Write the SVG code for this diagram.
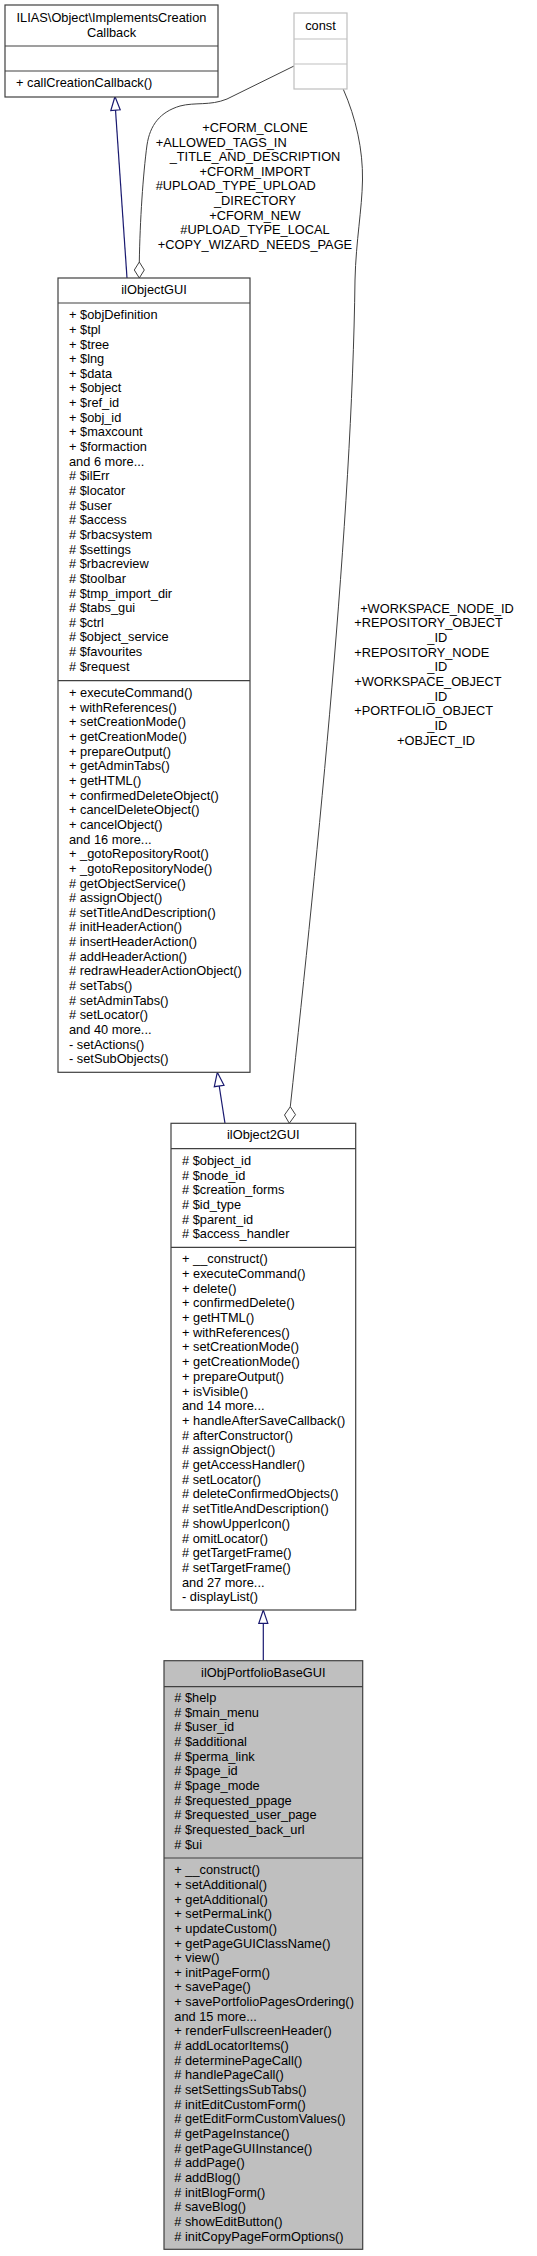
<svg xmlns="http://www.w3.org/2000/svg" width="537" height="2256" viewBox="0 0 537 2256">
<defs>
<style>
text{font-family:"Liberation Sans",Arial,sans-serif;font-size:12.8px;fill:#000}
.c{text-anchor:middle}
.box{fill:#fff;stroke:#404040;stroke-width:1.2}
.cur{fill:#bfbfbf;stroke:#404040;stroke-width:1.2}
.cst{fill:#fff;stroke:#bfbfbf;stroke-width:1.2}
.div{stroke:#404040;stroke-width:1.2}
.divc{stroke:#bfbfbf;stroke-width:1.2}
.inh{fill:none;stroke:#191970;stroke-width:1.2}
.inhh{fill:#fff;stroke:#191970;stroke-width:1.2}
.agg{fill:none;stroke:#404040;stroke-width:1}
.aggh{fill:#fff;stroke:#404040;stroke-width:1}
</style>
</defs>
<rect width="537" height="2256" fill="#fff"/>

<g id="connectors">
<path class="inh" d="M127,278 L115.5,110"/>
<polygon class="inhh" points="115,96.5 110.8,110.5 120.2,109.8"/>
<path class="agg" d="M294,66 L227,99 C210,106 195,102 180,106 C160,112 150,125 147,145 C143,175 140,220 139.3,262"/>
<polygon class="aggh" points="139.3,262 144.3,270 139.3,278 134.3,270"/>
<text x="255" y="131.5" class="c">+CFORM_CLONE</text>
<text x="155.7" y="146.5">+ALLOWED_TAGS_IN</text>
<text x="255" y="160.8" class="c">_TITLE_AND_DESCRIPTION</text>
<text x="255" y="175.5" class="c">+CFORM_IMPORT</text>
<text x="155.7" y="190.2">#UPLOAD_TYPE_UPLOAD</text>
<text x="255" y="204.5" class="c">_DIRECTORY</text>
<text x="255" y="219.5" class="c">+CFORM_NEW</text>
<text x="255" y="234.2" class="c">#UPLOAD_TYPE_LOCAL</text>
<text x="255" y="248.8" class="c">+COPY_WIZARD_NEEDS_PAGE</text>

<path class="inh" d="M225,1123.3 L219.2,1086"/>
<polygon class="inhh" points="217.3,1072.3 214.3,1086.7 224,1085.3"/>
<path class="agg" d="M343.3,89.3 C356,118 363,150 362.5,180 C362,210 356,240 355,280 C352,520 318,850 290.3,1106.7"/>
<polygon class="aggh" points="290.3,1106.7 295.5,1114.7 289.3,1123.3 284.5,1115"/>
<text x="437" y="612.8" class="c">+WORKSPACE_NODE_ID</text>
<text x="354.3" y="626.8">+REPOSITORY_OBJECT</text>
<text x="437.3" y="641.8" class="c">_ID</text>
<text x="354.3" y="656.5">+REPOSITORY_NODE</text>
<text x="437.3" y="670.8" class="c">_ID</text>
<text x="354.3" y="685.5">+WORKSPACE_OBJECT</text>
<text x="437.3" y="700.5" class="c">_ID</text>
<text x="354.3" y="714.8">+PORTFOLIO_OBJECT</text>
<text x="437.3" y="729.5" class="c">_ID</text>
<text x="436" y="744.5" class="c">+OBJECT_ID</text>

<path class="inh" d="M263.3,1660.7 L263.3,1623.3"/>
<polygon class="inhh" points="263.3,1610 258.8,1623.3 267.8,1623.3"/>
</g>

<g id="node-ILIAS-Object-ImplementsCreationCallback">
<rect class="box" x="5" y="5" width="213" height="92"/>
<line class="div" x1="5" y1="46" x2="218" y2="46"/>
<line class="div" x1="5" y1="71" x2="218" y2="71"/>
<text x="111.5" y="21.8" class="c">ILIAS\Object\ImplementsCreation</text>
<text x="111.5" y="36.8" class="c">Callback</text>
<text x="16" y="86.5">+ callCreationCallback()</text>
</g>

<g id="node-const">
<rect class="cst" x="294" y="13" width="53" height="76"/>
<line class="divc" x1="294" y1="39" x2="347" y2="39"/>
<line class="divc" x1="294" y1="64" x2="347" y2="64"/>
<text x="320.5" y="29.5" class="c">const</text>
</g>

<g id="node-ilObjectGUI">
<rect class="box" x="58" y="278" width="192" height="794.3"/>
<line class="div" x1="58" y1="303" x2="250" y2="303"/>
<line class="div" x1="58" y1="680.7" x2="250" y2="680.7"/>
<text x="154" y="293.5" class="c">ilObjectGUI</text>
<text y="319.2">
<tspan x="69">+ $objDefinition</tspan>
<tspan x="69" dy="14.65">+ $tpl</tspan>
<tspan x="69" dy="14.65">+ $tree</tspan>
<tspan x="69" dy="14.65">+ $lng</tspan>
<tspan x="69" dy="14.65">+ $data</tspan>
<tspan x="69" dy="14.65">+ $object</tspan>
<tspan x="69" dy="14.65">+ $ref_id</tspan>
<tspan x="69" dy="14.65">+ $obj_id</tspan>
<tspan x="69" dy="14.65">+ $maxcount</tspan>
<tspan x="69" dy="14.65">+ $formaction</tspan>
<tspan x="69" dy="14.65">and 6 more...</tspan>
<tspan x="69" dy="14.65"># $ilErr</tspan>
<tspan x="69" dy="14.65"># $locator</tspan>
<tspan x="69" dy="14.65"># $user</tspan>
<tspan x="69" dy="14.65"># $access</tspan>
<tspan x="69" dy="14.65"># $rbacsystem</tspan>
<tspan x="69" dy="14.65"># $settings</tspan>
<tspan x="69" dy="14.65"># $rbacreview</tspan>
<tspan x="69" dy="14.65"># $toolbar</tspan>
<tspan x="69" dy="14.65"># $tmp_import_dir</tspan>
<tspan x="69" dy="14.65"># $tabs_gui</tspan>
<tspan x="69" dy="14.65"># $ctrl</tspan>
<tspan x="69" dy="14.65"># $object_service</tspan>
<tspan x="69" dy="14.65"># $favourites</tspan>
<tspan x="69" dy="14.65"># $request</tspan>
</text>
<text y="697.2">
<tspan x="69">+ executeCommand()</tspan>
<tspan x="69" dy="14.64">+ withReferences()</tspan>
<tspan x="69" dy="14.64">+ setCreationMode()</tspan>
<tspan x="69" dy="14.64">+ getCreationMode()</tspan>
<tspan x="69" dy="14.64">+ prepareOutput()</tspan>
<tspan x="69" dy="14.64">+ getAdminTabs()</tspan>
<tspan x="69" dy="14.64">+ getHTML()</tspan>
<tspan x="69" dy="14.64">+ confirmedDeleteObject()</tspan>
<tspan x="69" dy="14.64">+ cancelDeleteObject()</tspan>
<tspan x="69" dy="14.64">+ cancelObject()</tspan>
<tspan x="69" dy="14.64">and 16 more...</tspan>
<tspan x="69" dy="14.64">+ _gotoRepositoryRoot()</tspan>
<tspan x="69" dy="14.64">+ _gotoRepositoryNode()</tspan>
<tspan x="69" dy="14.64"># getObjectService()</tspan>
<tspan x="69" dy="14.64"># assignObject()</tspan>
<tspan x="69" dy="14.64"># setTitleAndDescription()</tspan>
<tspan x="69" dy="14.64"># initHeaderAction()</tspan>
<tspan x="69" dy="14.64"># insertHeaderAction()</tspan>
<tspan x="69" dy="14.64"># addHeaderAction()</tspan>
<tspan x="69" dy="14.64"># redrawHeaderActionObject()</tspan>
<tspan x="69" dy="14.64"># setTabs()</tspan>
<tspan x="69" dy="14.64"># setAdminTabs()</tspan>
<tspan x="69" dy="14.64"># setLocator()</tspan>
<tspan x="69" dy="14.64">and 40 more...</tspan>
<tspan x="69" dy="14.64">- setActions()</tspan>
<tspan x="69" dy="14.64">- setSubObjects()</tspan>
</text>
</g>

<g id="node-ilObject2GUI">
<rect class="box" x="171" y="1123.3" width="184.7" height="486.7"/>
<line class="div" x1="171" y1="1148.7" x2="355.7" y2="1148.7"/>
<line class="div" x1="171" y1="1247.3" x2="355.7" y2="1247.3"/>
<text x="263.3" y="1139.2" class="c">ilObject2GUI</text>
<text y="1165.2">
<tspan x="182"># $object_id</tspan>
<tspan x="182" dy="14.6"># $node_id</tspan>
<tspan x="182" dy="14.6"># $creation_forms</tspan>
<tspan x="182" dy="14.6"># $id_type</tspan>
<tspan x="182" dy="14.6"># $parent_id</tspan>
<tspan x="182" dy="14.6"># $access_handler</tspan>
</text>
<text y="1263.2">
<tspan x="182">+ __construct()</tspan>
<tspan x="182" dy="14.7">+ executeCommand()</tspan>
<tspan x="182" dy="14.7">+ delete()</tspan>
<tspan x="182" dy="14.7">+ confirmedDelete()</tspan>
<tspan x="182" dy="14.7">+ getHTML()</tspan>
<tspan x="182" dy="14.7">+ withReferences()</tspan>
<tspan x="182" dy="14.7">+ setCreationMode()</tspan>
<tspan x="182" dy="14.7">+ getCreationMode()</tspan>
<tspan x="182" dy="14.7">+ prepareOutput()</tspan>
<tspan x="182" dy="14.7">+ isVisible()</tspan>
<tspan x="182" dy="14.7">and 14 more...</tspan>
<tspan x="182" dy="14.7">+ handleAfterSaveCallback()</tspan>
<tspan x="182" dy="14.7"># afterConstructor()</tspan>
<tspan x="182" dy="14.7"># assignObject()</tspan>
<tspan x="182" dy="14.7"># getAccessHandler()</tspan>
<tspan x="182" dy="14.7"># setLocator()</tspan>
<tspan x="182" dy="14.7"># deleteConfirmedObjects()</tspan>
<tspan x="182" dy="14.7"># setTitleAndDescription()</tspan>
<tspan x="182" dy="14.7"># showUpperIcon()</tspan>
<tspan x="182" dy="14.7"># omitLocator()</tspan>
<tspan x="182" dy="14.7"># getTargetFrame()</tspan>
<tspan x="182" dy="14.7"># setTargetFrame()</tspan>
<tspan x="182" dy="14.7">and 27 more...</tspan>
<tspan x="182" dy="14.7">- displayList()</tspan>
</text>
</g>

<g id="node-ilObjPortfolioBaseGUI">
<rect class="cur" x="164" y="1660.7" width="198.7" height="588.6"/>
<line class="div" x1="164" y1="1686.7" x2="362.7" y2="1686.7" stroke-width="2"/>
<line class="div" x1="164" y1="1858" x2="362.7" y2="1858" stroke-width="2"/>
<text x="263.3" y="1676.8" class="c">ilObjPortfolioBaseGUI</text>
<text y="1701.8">
<tspan x="174.3"># $help</tspan>
<tspan x="174.3" dy="14.7"># $main_menu</tspan>
<tspan x="174.3" dy="14.7"># $user_id</tspan>
<tspan x="174.3" dy="14.7"># $additional</tspan>
<tspan x="174.3" dy="14.7"># $perma_link</tspan>
<tspan x="174.3" dy="14.7"># $page_id</tspan>
<tspan x="174.3" dy="14.7"># $page_mode</tspan>
<tspan x="174.3" dy="14.7"># $requested_ppage</tspan>
<tspan x="174.3" dy="14.7"># $requested_user_page</tspan>
<tspan x="174.3" dy="14.7"># $requested_back_url</tspan>
<tspan x="174.3" dy="14.7"># $ui</tspan>
</text>
<text y="1874.2">
<tspan x="174.3">+ __construct()</tspan>
<tspan x="174.3" dy="14.66">+ setAdditional()</tspan>
<tspan x="174.3" dy="14.66">+ getAdditional()</tspan>
<tspan x="174.3" dy="14.66">+ setPermaLink()</tspan>
<tspan x="174.3" dy="14.66">+ updateCustom()</tspan>
<tspan x="174.3" dy="14.66">+ getPageGUIClassName()</tspan>
<tspan x="174.3" dy="14.66">+ view()</tspan>
<tspan x="174.3" dy="14.66">+ initPageForm()</tspan>
<tspan x="174.3" dy="14.66">+ savePage()</tspan>
<tspan x="174.3" dy="14.66">+ savePortfolioPagesOrdering()</tspan>
<tspan x="174.3" dy="14.66">and 15 more...</tspan>
<tspan x="174.3" dy="14.66">+ renderFullscreenHeader()</tspan>
<tspan x="174.3" dy="14.66"># addLocatorItems()</tspan>
<tspan x="174.3" dy="14.66"># determinePageCall()</tspan>
<tspan x="174.3" dy="14.66"># handlePageCall()</tspan>
<tspan x="174.3" dy="14.66"># setSettingsSubTabs()</tspan>
<tspan x="174.3" dy="14.66"># initEditCustomForm()</tspan>
<tspan x="174.3" dy="14.66"># getEditFormCustomValues()</tspan>
<tspan x="174.3" dy="14.66"># getPageInstance()</tspan>
<tspan x="174.3" dy="14.66"># getPageGUIInstance()</tspan>
<tspan x="174.3" dy="14.66"># addPage()</tspan>
<tspan x="174.3" dy="14.66"># addBlog()</tspan>
<tspan x="174.3" dy="14.66"># initBlogForm()</tspan>
<tspan x="174.3" dy="14.66"># saveBlog()</tspan>
<tspan x="174.3" dy="14.66"># showEditButton()</tspan>
<tspan x="174.3" dy="14.66"># initCopyPageFormOptions()</tspan>
</text>
</g>
</svg>
